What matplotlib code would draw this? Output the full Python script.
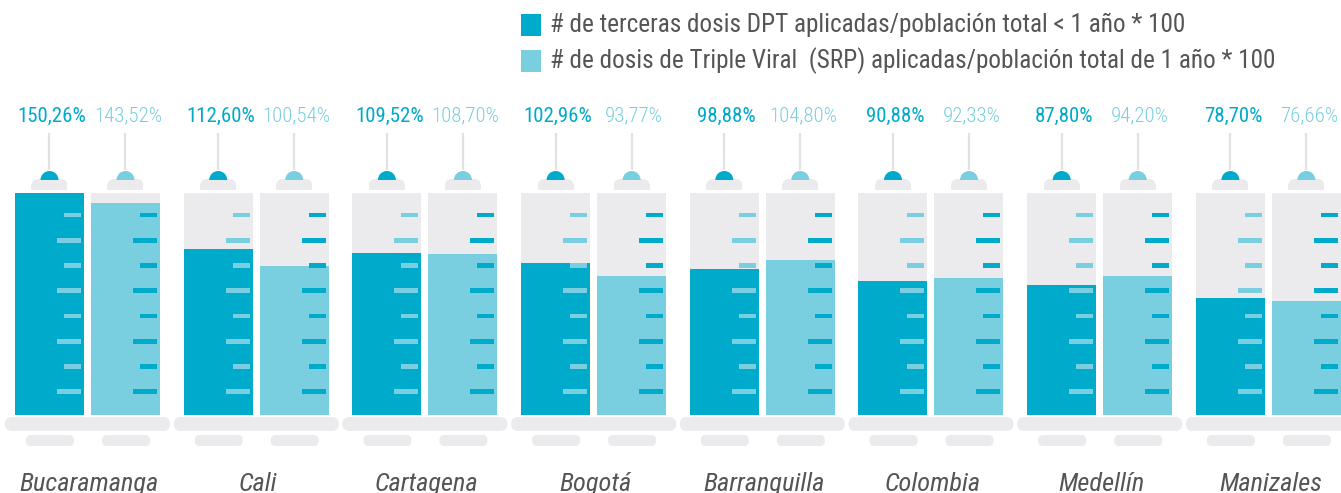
import matplotlib
matplotlib.use("Agg")
import matplotlib.pyplot as plt
from matplotlib.patches import Rectangle, FancyBboxPatch, Wedge

cities = ['Bucaramanga', 'Cali', 'Cartagena', 'Bogotá', 'Barranquilla',
          'Colombia', 'Medellín', 'Manizales']
dpt = [150.26, 112.60, 109.52, 102.96, 98.88, 90.88, 87.80, 78.70]
srp = [143.52, 100.54, 108.70, 93.77, 104.80, 92.33, 94.20, 76.66]
legend_labels = ['# de terceras dosis DPT aplicadas/población total < 1 año * 100',
                 '# de dosis de Triple Viral  (SRP) aplicadas/población total de 1 año * 100']

DARK = '#00aacb'
LIGHT = '#79cfe0'
GRAY = '#ebebed'
TEXT = '#555555'
FONT = ['Roboto Condensed', 'DejaVu Sans']

W, H = 1341, 493
fig = plt.figure(figsize=(W / 100, H / 100), dpi=100)
ax = fig.add_axes([0, 0, 1, 1])
ax.set_xlim(0, W)
ax.set_ylim(H, 0)
ax.axis('off')

BODY_TOP, BODY_BOT = 193, 414.5
scale = (BODY_BOT - BODY_TOP) / max(dpt)
BW = 69
GROUP_STEP = 168.7
X0 = 15
OFF = 76
tick_ys = [215 + i * 25.25 for i in range(8)]

for i, city in enumerate(cities):
    left_d = X0 + i * GROUP_STEP
    left_l = left_d + OFF
    # base plate
    ax.add_patch(FancyBboxPatch((left_d - 10, 417), (left_l + BW + 10) - (left_d - 10), 14,
                                boxstyle='round,pad=0,rounding_size=7', fc=GRAY, ec='none'))
    for left, val, col, tcol, wt in [(left_d, dpt[i], DARK, LIGHT, 'normal'),
                                     (left_l, srp[i], LIGHT, DARK, 'light')]:
        cx = left + BW / 2
        # body
        ax.add_patch(Rectangle((left, BODY_TOP), BW, BODY_BOT - BODY_TOP, fc=GRAY, ec='none'))
        ax.bar(cx, -val * scale, width=BW, bottom=BODY_BOT, color=col, linewidth=0)
        # ticks
        for k, ty in enumerate(tick_ys):
            tw = 17 if k % 2 == 0 else 24
            ax.add_patch(Rectangle((left + BW - 3 - tw, ty - 2.3), tw, 4.6, fc=tcol, ec='none'))
        # cap
        ax.add_patch(FancyBboxPatch((cx - 18, 179), 36, 11,
                                    boxstyle='round,pad=0,rounding_size=7', fc=GRAY, ec='none'))
        ax.add_patch(Rectangle((cx - 18, 184), 36, 6, fc=GRAY, ec='none'))
        # dome
        ax.add_patch(Wedge((cx, 180), 9, 180, 360, fc=col, ec='none'))
        # needle
        ax.plot([cx, cx], [133, 170], color='#e2e2e4', lw=1.6, solid_capstyle='butt')
        # pill
        ax.add_patch(FancyBboxPatch((left + 11, 435), BW - 21, 11,
                                    boxstyle='round,pad=0,rounding_size=5', fc=GRAY, ec='none'))
        # value label
        ax.text(cx + 2.5, 116, f"{val:.2f}".replace('.', ',') + '%', color=col,
                ha='center', va='center', fontsize=15, family=FONT, fontweight=wt)
    # city label
    ax.text(left_d + (OFF + BW) / 2 + 2, 491, city, ha='center', va='baseline', color=TEXT,
            fontsize=19, style='italic', family=FONT)

# legend
for j, (lab, col) in enumerate(zip(legend_labels, [DARK, LIGHT])):
    y = 25 + j * 36
    ax.add_patch(Rectangle((521, y - 11), 20, 22, fc=col, ec='none'))
    ax.text(550, y, lab, ha='left', va='center', color=TEXT, fontsize=18.2, family=FONT)

fig.savefig('out.png', dpi=100)
